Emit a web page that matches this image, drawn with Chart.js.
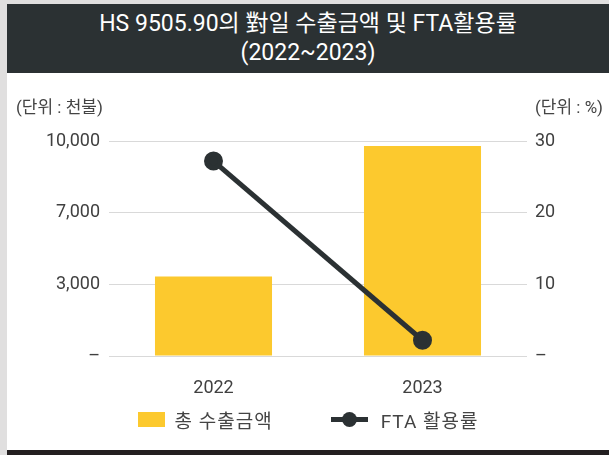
<!DOCTYPE html>
<html lang="ko">
<head>
<meta charset="utf-8">
<script src="https://cdn.jsdelivr.net/npm/chart.js@4.4.1/dist/chart.umd.min.js"></script>
<style>
  body { margin: 0; width: 609px; height: 455px; background: #e0dfdf; position: relative; overflow: hidden;
         font-family: Roboto, "Noto Sans CJK KR", sans-serif; }
  #titre { position: absolute; left: 7px; top: 4px; width: 602px; height: 69px; background: #2b3133;
           color: #fff; text-align: center; font-size: 23px; line-height: 29px; padding-top: 5px; box-sizing: border-box; }
  #zone { position: absolute; left: 7px; top: 73px; width: 602px; height: 377px; background: #fff; }
  #bas { position: absolute; left: 7px; top: 450px; width: 602px; height: 5px; background: #231f20; }
  .unite { position: absolute; top: 20px; font-size: 17px; color: #444; }
  #legende { position: absolute; left: 0; width: 602px; top: 333px; display: flex; justify-content: center;
             align-items: center; font-size: 19px; letter-spacing: 1px; color: #444; }
  .item { display: flex; align-items: center; }
  .boite { width: 27px; height: 15px; background: #fcc92e; margin-right: 10px; }
  .trait { width: 37px; height: 5px; background: #2b3133; position: relative; margin-right: 13px; }
  .trait::after { content: ""; position: absolute; left: 11px; top: -5px; width: 15px; height: 15px;
                  border-radius: 50%; background: #2b3133; }
</style>
</head>
<body>
<div id="titre">HS 9505.90의 對일 수출금액 및 FTA활용률<br>(2022~2023)</div>
<div id="zone">
  <div class="unite" style="left:9px">(단위 : 천불)</div>
  <div class="unite" style="left:528px">(단위 : %)</div>
  <canvas id="g_export" width="602" height="377"></canvas>
  <div id="legende">
    <div class="item" style="margin-right:58px"><div class="boite"></div>총 수출금액</div>
    <div class="item"><div class="trait"></div>FTA 활용률</div>
  </div>
</div>
<div id="bas"></div>
<script>
// données
const annees = ['2022', '2023'];
const exportations = [3700, 9770];   // 천불
const tauxFTA = [27.2, 2.2];         // %

const police = { family: 'Roboto, "Noto Sans CJK KR", sans-serif', size: 18 };

function grouperMilliers(v) {
    let arrondi = Math.round(v / 1000) * 1000;
    return arrondi === 0 ? '–' : arrondi.toLocaleString('en-US');
}

let context = document.getElementById('g_export').getContext('2d');
let gExport = new Chart(context, {
    data: {
        labels: annees,
        datasets: [{
            type: 'bar',
            label: '총 수출금액',
            data: exportations,
            backgroundColor: '#fcc92e',
            yAxisID: 'y',
            order: 1,
            barPercentage: 0.56,
            categoryPercentage: 1
        }, {
            type: 'line',
            label: 'FTA 활용률',
            data: tauxFTA,
            borderColor: '#2b3133',
            backgroundColor: '#2b3133',
            borderWidth: 5,
            pointRadius: 7,
            yAxisID: 'y1',
            order: 0
        }]
    },
    options: {
        responsive: false,
        animation: false,
        layout: { padding: { top: 68, bottom: 54, left: 0, right: 0 } },
        plugins: { legend: { display: false }, tooltip: { enabled: false } },
        scales: {
            x: {
                grid: { display: false },
                border: { display: false },
                ticks: { color: '#404040', font: police, padding: 14 },
                afterFit: (s) => { s.height = 40; }
            },
            y: {
                position: 'left',
                min: 0, max: 10000,
                ticks: { count: 4, color: '#404040', font: police, padding: 9, callback: grouperMilliers },
                grid: { color: '#d9d9d9', drawTicks: false },
                border: { display: false },
                afterFit: (s) => { s.width = 102; }
            },
            y1: {
                position: 'right',
                min: 0, max: 30,
                ticks: { stepSize: 10, color: '#404040', font: police, padding: 8,
                         callback: (v) => v === 0 ? '–' : v },
                grid: { drawOnChartArea: false, drawTicks: false },
                border: { display: false },
                afterFit: (s) => { s.width = 82; }
            }
        }
    }
});
</script>
</body>
</html>
